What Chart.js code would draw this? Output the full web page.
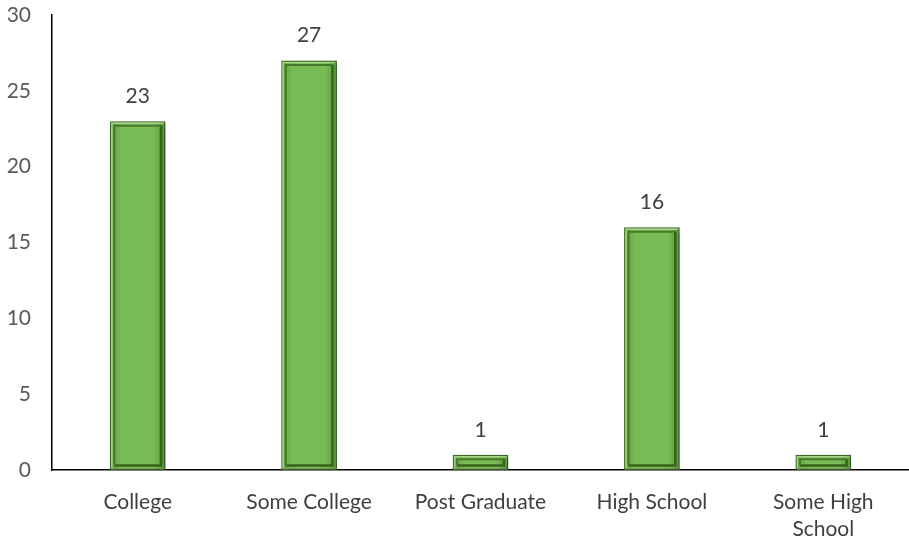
<!DOCTYPE html>
<html>
<head>
<meta charset="utf-8">
<script src="https://cdn.jsdelivr.net/npm/chart.js@4"></script>
<style>
html,body{margin:0;padding:0;background:#fff;}
#wrap{width:909px;height:542px;position:relative;}
</style>
</head>
<body>
<div id="wrap"><canvas id="c" width="909" height="542"></canvas></div>
<script>
const categories = ["College", "Some College", "Post Graduate", "High School", ["Some High", "School"]];
const values = [23, 27, 1, 16, 1];
const yTicks = [0, 5, 10, 15, 20, 25, 30];

const FONT = "Lato, 'Open Sans', 'Liberation Sans', sans-serif";

const bevelPlugin = {
  id: 'bevel',
  beforeDatasetDraw(chart) {
    const ctx = chart.ctx;
    ctx.save();
    ctx.shadowColor = 'rgba(0,0,0,0.35)';
    ctx.shadowBlur = 7;
    ctx.shadowOffsetX = 3;
    ctx.shadowOffsetY = 2;
  },
  afterDatasetDraw(chart) {
    const ctx = chart.ctx;
    ctx.restore();
    const meta = chart.getDatasetMeta(0);
    meta.data.forEach((bar, i) => {
      const p = bar.getProps(['x', 'y', 'base', 'width'], true);
      const l = p.x - p.width / 2, r = p.x + p.width / 2;
      const t = p.y, b = p.base;
      const ins = 4.5;
      ctx.save();
      ctx.lineWidth = 2.5;
      ctx.strokeStyle = '#36641b';
      ctx.beginPath();
      ctx.moveTo(r - ins, t + ins);
      ctx.lineTo(r - ins, b - ins);
      ctx.lineTo(l + ins, b - ins);
      ctx.stroke();
      ctx.strokeStyle = '#46792a';
      ctx.lineWidth = 2;
      ctx.beginPath();
      ctx.moveTo(l + ins, b - ins);
      ctx.lineTo(l + ins, t + ins);
      ctx.lineTo(r - ins, t + ins);
      ctx.stroke();
      ctx.strokeStyle = 'rgba(170,215,140,0.9)';
      ctx.lineWidth = 1.5;
      ctx.beginPath();
      ctx.moveTo(l + 2, b - 2);
      ctx.lineTo(l + 2, t + 2);
      ctx.lineTo(r - 2, t + 2);
      ctx.stroke();
      ctx.restore();
    });
  }
};

const labelPlugin = {
  id: 'vals',
  afterDatasetsDraw(chart) {
    const ctx = chart.ctx;
    const meta = chart.getDatasetMeta(0);
    ctx.save();
    ctx.font = "21px " + FONT;
    ctx.fillStyle = '#404040';
    ctx.textAlign = 'center';
    ctx.textBaseline = 'middle';
    meta.data.forEach((bar, i) => {
      ctx.fillText(String(values[i]), bar.x, bar.y - 25);
    });
    ctx.restore();
  }
};

function barFill(c) {
  const chart = c.chart;
  const xs = chart.scales && chart.scales.x;
  if (!xs || c.dataIndex === undefined) return '#76b852';
  const cx = xs.getPixelForValue(c.dataIndex);
  const w = (xs.width / categories.length) * 0.325;
  if (!isFinite(cx) || !isFinite(w) || w <= 0) return '#76b852';
  const g = chart.ctx.createLinearGradient(cx - w / 2, 0, cx + w / 2, 0);
  g.addColorStop(0, '#5e9e3c');
  g.addColorStop(0.2, '#78bb55');
  g.addColorStop(0.8, '#78bb55');
  g.addColorStop(1, '#528f33');
  return g;
}

const ctx = document.getElementById('c').getContext('2d');
const chart = new Chart(ctx, {
  type: 'bar',
  data: {
    labels: categories,
    datasets: [{
      data: values,
      backgroundColor: barFill,
      borderColor: '#3f6e25',
      borderWidth: 1.5,
      borderSkipped: false,
      categoryPercentage: 1,
      barPercentage: 0.325
    }]
  },
  options: {
    responsive: false,
    animation: false,
    devicePixelRatio: 1,
    layout: { padding: { top: 15, right: 0, left: 0, bottom: 0 } },
    plugins: { legend: { display: false }, tooltip: { enabled: false } },
    scales: {
      y: {
        min: 0, max: 30,
        afterFit(s) { s.width = 52; s.paddingTop = 0; s.paddingBottom = 0; },
        afterBuildTicks(s) { s.ticks = yTicks.map(v => ({ value: v })); },
        grid: { display: false, drawTicks: false },
        border: { display: true, color: '#000', width: 1.5 },
        ticks: { color: '#595959', font: { size: 21, family: FONT }, padding: 21 }
      },
      x: {
        afterFit(s) { s.height = 72; s.paddingLeft = 0; s.paddingRight = 0; },
        grid: { display: false, drawTicks: false },
        border: { display: true, color: '#000', width: 1.5 },
        ticks: { color: '#404040', font: { size: 21, family: FONT, lineHeight: 1.32 }, padding: 18, maxRotation: 0, autoSkip: false }
      }
    }
  },
  plugins: [bevelPlugin, labelPlugin]
});
</script>
</body>
</html>
